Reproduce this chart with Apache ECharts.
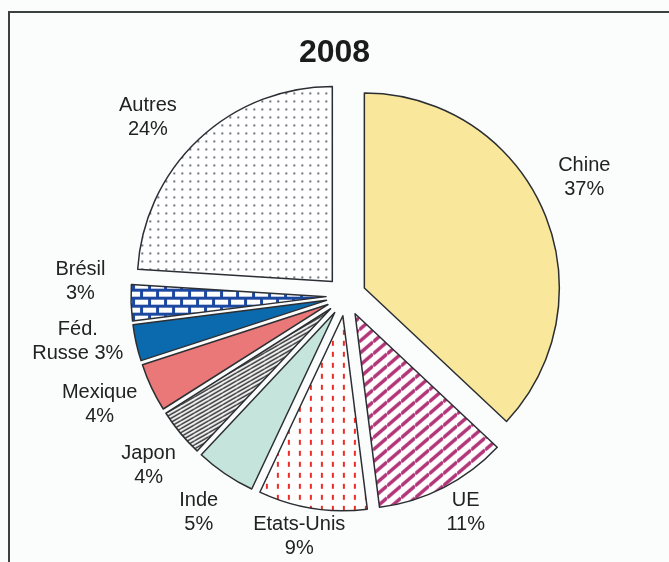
<!DOCTYPE html>
<html>
<head>
<meta charset="utf-8">
<script src="https://cdn.jsdelivr.net/npm/echarts@6/dist/echarts.min.js"></script>
<style>
  html, body { margin: 0; padding: 0; background: #fbfcfc; }
  #chart { width: 669px; height: 562px; }
</style>
</head>
<body>
<div id="chart"></div>
<script>
// data
var year = '2008'
var countries = ['Chine', 'UE', 'Etats-Unis', 'Inde', 'Japon', 'Mexique', 'Féd. Russe', 'Brésil', 'Autres']
var shares = [37, 11, 9, 5, 4, 4, 3, 3, 24]

// layout
var cx = 346, cy = 296, R = 195
var labelRadius = [266, 247, 245, 262, 260, 269, 272, 266, 267]
var labelTurn = [-3, -2, 2, 0, -1, 1.5, 3, 5, -4.7]

// fill patterns
function tile (w, h, draw) {
  var c = document.createElement('canvas')
  c.width = w; c.height = h
  var ctx = c.getContext('2d')
  ctx.fillStyle = '#ffffff'
  ctx.fillRect(0, 0, w, h)
  draw(ctx, w, h)
  return { image: c, repeat: 'repeat' }
}
function slanted (w, h, n, color, lw) {
  return tile(w, h, function (ctx) {
    ctx.strokeStyle = color
    ctx.lineWidth = lw
    for (var k = -n; k <= 2 * n; k++) {
      var c0 = k * h / n
      ctx.beginPath()
      ctx.moveTo(0, c0)
      ctx.lineTo(w, c0 - h)
      ctx.stroke()
    }
  })
}

var dots = tile(8, 8, function (ctx) {
  ctx.fillStyle = '#3c4452'
  ctx.beginPath(); ctx.arc(4, 4, 1, 0, Math.PI * 2); ctx.fill()
})
var bricks = tile(16, 16, function (ctx) {
  ctx.fillStyle = '#1c48a0'
  ctx.fillRect(0, 0, 16, 3)
  ctx.fillRect(0, 8, 16, 3)
  ctx.fillRect(0, 0, 3, 8)
  ctx.fillRect(8, 8, 3, 8)
})
var dashes = tile(11, 11, function (ctx) {
  ctx.fillStyle = '#ee2b26'
  ctx.fillRect(5, 2, 2, 5)
})
var purpleStripes = slanted(14, 12, 1, '#b23578', 3.5)
var fineLines = slanted(14, 8, 2, '#111111', 1.4)

var fills = ['#f9e79b', purpleStripes, dashes, '#c5e4dc', fineLines, '#eb7878', '#0b6aad', bricks, dots]

// mid angle of each slice (clockwise from 12 o'clock)
var total = shares.reduce(function (a, b) { return a + b }, 0)
var mids = []
var acc = 0
shares.forEach(function (v) {
  mids.push((acc + v / 2) / total * 360)
  acc += v
})

function labelText (name, value) {
  var parts = name.split(' ')
  if (parts.length === 1) return name + '\n' + value + '%'
  var last = parts.pop()
  return parts.join(' ') + '\n' + last + ' ' + value + '%'
}

var chart = echarts.init(document.getElementById('chart'))
var option = {
  backgroundColor: '#fbfcfc',
  animation: false,
  title: {
    text: year,
    left: 'center',
    top: 32,
    textStyle: { fontFamily: 'Liberation Sans', fontSize: 32, fontWeight: 'bold', color: '#1b1b1b' }
  },
  graphic: [
    { type: 'line', shape: { x1: 8, y1: 12, x2: 669, y2: 12 }, style: { stroke: '#3b4040', lineWidth: 2 } },
    { type: 'line', shape: { x1: 9, y1: 12, x2: 9, y2: 562 }, style: { stroke: '#3b4040', lineWidth: 2 } }
  ],
  series: [
    {
      // exploded slices
      type: 'pie',
      center: [cx, cy],
      radius: [0, R],
      startAngle: 90,
      clockwise: true,
      selectedMode: 'multiple',
      selectedOffset: 20,
      emphasis: { disabled: true },
      itemStyle: { borderColor: '#2b2f33', borderWidth: 1.5 },
      label: { show: false },
      labelLine: { show: false },
      data: countries.map(function (name, i) {
        return {
          name: name,
          value: shares[i],
          selected: true,
          itemStyle: { color: fills[i] },
          select: { itemStyle: { color: fills[i], borderColor: '#2b2f33', borderWidth: 1.5 } }
        }
      })
    },
    {
      // labels only
      type: 'pie',
      silent: true,
      center: [cx, cy],
      radius: [0, R],
      startAngle: 90,
      clockwise: true,
      avoidLabelOverlap: false,
      emphasis: { disabled: true },
      itemStyle: { color: 'rgba(0,0,0,0)', borderWidth: 0 },
      label: {
        show: true,
        fontFamily: 'Liberation Sans',
        fontSize: 20,
        lineHeight: 24,
        color: '#222222',
        align: 'center',
        formatter: function (p) { return labelText(p.name, p.value) }
      },
      labelLine: { show: false },
      labelLayout: function (p) {
        var i = p.dataIndex
        var a = (mids[i] + labelTurn[i]) * Math.PI / 180
        return {
          x: cx + labelRadius[i] * Math.sin(a),
          y: cy - labelRadius[i] * Math.cos(a),
          align: 'center',
          verticalAlign: 'middle'
        }
      },
      data: countries.map(function (name, i) {
        return { name: name, value: shares[i] }
      })
    }
  ]
}
chart.setOption(option)
</script>
</body>
</html>
